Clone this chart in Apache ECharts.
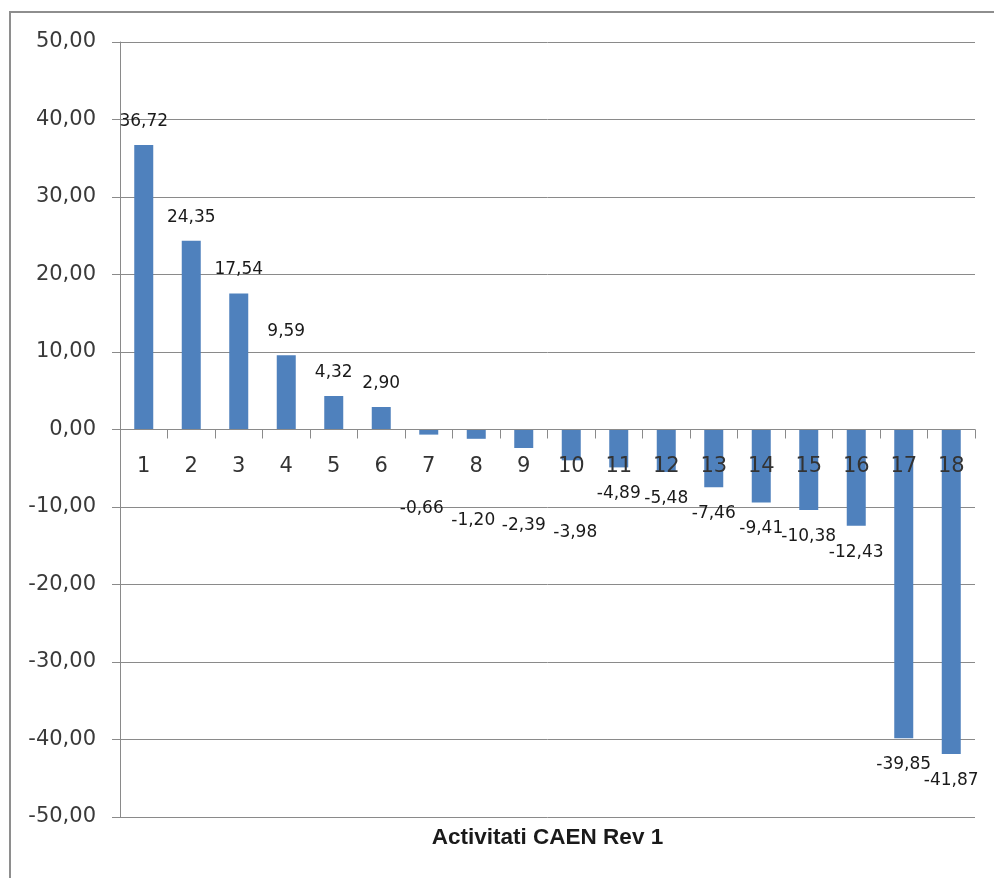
<!DOCTYPE html>
<html>
<head>
<meta charset="utf-8">
<title>Activitati CAEN Rev 1</title>
<script src="https://cdn.jsdelivr.net/npm/echarts@6/dist/echarts.min.js"></script>
<style>
  html, body { margin: 0; padding: 0; background: #ffffff; }
  #chart { width: 994px; height: 878px; }
</style>
</head>
<body>
<div id="chart"></div>
<script>
// Activity codes (CAEN Rev 1) along the category axis
const categories = ['1', '2', '3', '4', '5', '6', '7', '8', '9', '10',
                    '11', '12', '13', '14', '15', '16', '17', '18'];

// Change per activity
const values = [36.72, 24.35, 17.54, 9.59, 4.32, 2.90, -0.66, -1.20, -2.39,
                -3.98, -4.89, -5.48, -7.46, -9.41, -10.38, -12.43, -39.85, -41.87];

// Value axis range and step
const yMin = -50;
const yMax = 50;
const yStep = 10;

const axisTitle = 'Activitati CAEN Rev 1';

// Hand-placed labels for the small negative bars (index -> [dx, dy] in px)
const labelNudge = { 6: [-7, 47], 7: [-3, 55], 8: [0, 51], 9: [4, 46] };

const fmt = v => v.toFixed(2).replace('.', ',');

// Plot box
const W = 994, H = 878;
const gridBox = { left: 120, right: 19, top: 42, bottom: 61 };
const plotHeight = H - gridBox.top - gridBox.bottom;
// Lift the category axis (line, ticks and labels) up to the zero level
const zeroLift = -plotHeight * (0 - yMin) / (yMax - yMin);

const barData = values.map((v, i) => ({
  value: v,
  label: {
    position: v >= 0 ? 'top' : 'bottom',
    distance: v >= 0 ? 15 : 18,
    offset: labelNudge[i] || [0, 0]
  }
}));

const chart = echarts.init(document.getElementById('chart'), null, { renderer: 'canvas' });

chart.setOption({
  animation: false,
  backgroundColor: '#ffffff',
  title: {
    text: axisTitle,
    left: 547.5,
    top: 826,
    textAlign: 'center',
    padding: 0,
    textStyle: {
      fontFamily: 'Liberation Sans',
      fontWeight: 'bold',
      fontSize: 22.5,
      color: '#1a1a1a'
    }
  },
  graphic: [{
    type: 'rect',
    z: -10,
    silent: true,
    shape: { x: 10, y: 12, width: 1000, height: 900 },
    style: { fill: 'none', stroke: '#8e8e8e', lineWidth: 2 }
  }],
  grid: Object.assign({ containLabel: false }, gridBox),
  xAxis: {
    type: 'category',
    data: categories,
    position: 'bottom',
    offset: zeroLift,
    z: 10,
    axisLine: { onZero: false, lineStyle: { color: '#8a8a8a', width: 1 } },
    axisTick: { show: true, interval: 0, alignWithLabel: false, length: 9,
                lineStyle: { color: '#8a8a8a' } },
    axisLabel: {
      interval: 0,
      margin: 27,
      fontFamily: 'DejaVu Sans',
      fontSize: 21,
      color: '#333333'
    },
    splitLine: { show: false }
  },
  yAxis: {
    type: 'value',
    min: yMin,
    max: yMax,
    interval: yStep,
    axisLine: { show: true, lineStyle: { color: '#8a8a8a', width: 1 } },
    axisTick: { show: true, length: 8, lineStyle: { color: '#8a8a8a' } },
    axisLabel: {
      margin: 24,
      fontFamily: 'DejaVu Sans',
      fontSize: 21,
      color: '#3a3a3a',
      formatter: v => fmt(v)
    },
    splitLine: { show: true, lineStyle: { color: '#8a8a8a', width: 1 } }
  },
  series: [{
    type: 'bar',
    data: barData,
    barWidth: '40%',
    itemStyle: { color: '#4f81bd' },
    label: {
      show: true,
      fontFamily: 'DejaVu Sans',
      fontSize: 17,
      color: '#1a1a1a',
      formatter: p => fmt(p.value)
    }
  }]
});
</script>
</body>
</html>
